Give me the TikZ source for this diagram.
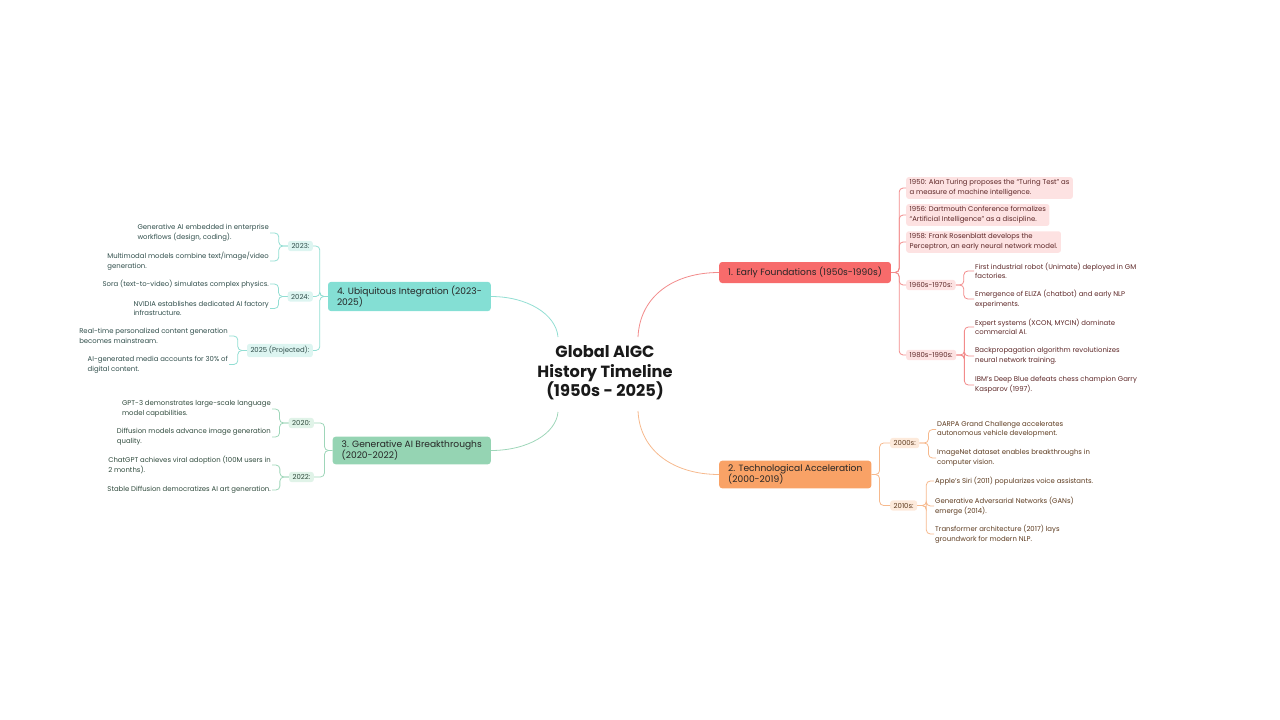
\documentclass[tikz,border=0pt]{standalone}
\usepackage{fontspec}
\setmainfont{Poppins}
\definecolor{redM}{HTML}{F76B6B}
\definecolor{redL}{HTML}{FDE2E2}
\definecolor{redLine}{HTML}{F28B8B}
\definecolor{redText}{HTML}{5C2626}
\definecolor{orM}{HTML}{F9A266}
\definecolor{orL}{HTML}{FDEADB}
\definecolor{orLine}{HTML}{F6B98D}
\definecolor{orText}{HTML}{5C3A1E}
\definecolor{teM}{HTML}{84DFD4}
\definecolor{teL}{HTML}{DDF5F1}
\definecolor{teLine}{HTML}{92DED3}
\definecolor{teText}{HTML}{2F4D4A}
\definecolor{grM}{HTML}{95D4B3}
\definecolor{grL}{HTML}{E0F3E8}
\definecolor{grLine}{HTML}{9ED6B9}
\definecolor{grText}{HTML}{2F4A3C}
\begin{document}
\begin{tikzpicture}[x=1pt,y=-1pt,
  mainbox/.style={rounded corners=3pt, inner xsep=9pt, inner ysep=4pt, minimum height=21pt,
    font=\fontsize{9.1}{11}\selectfont, align=left, text=black!85},
  subbox/.style={rounded corners=2.5pt, inner xsep=3.5pt, inner ysep=2.5pt,
    font=\fontsize{6.9}{9.6}\selectfont, align=left},
  leaf/.style={inner sep=1pt, font=\fontsize{6.9}{9.6}\selectfont, align=left},
  link/.style={line width=0.8pt},
  bracket/.style={line width=0.8pt, rounded corners=4pt}
]
\useasboundingbox (0,0) rectangle (1280,720);

% title
\node[font=\fontsize{16.2}{19.5}\selectfont\bfseries, align=center, text=black!90] (title) at (605,373)
  {Global AIGC\\History Timeline\\ (1950s - 2025)};
\coordinate (cR) at (638,337);
\coordinate (cO) at (638,411);
\coordinate (cT) at (558,337);
\coordinate (cG) at (558,412);

% main boxes
\node[mainbox, fill=redM, anchor=west] (b1) at (719,272.5) {1. Early Foundations (1950s-1990s)};
\node[mainbox, fill=orM, anchor=west] (b2) at (719,474.5) {2. Technological Acceleration\\(2000-2019)};
\node[mainbox, fill=grM, anchor=east] (b3) at (491,450.5) {3. Generative AI Breakthroughs\\(2020-2022)};
\node[mainbox, fill=teM, anchor=east] (b4) at (491,296.5) {4. Ubiquitous Integration (2023-\\2025)};

\draw[link, draw=redLine] (cR) .. controls (640,295) and (675,272.5) .. (b1.west);
\draw[link, draw=orLine] (cO) .. controls (640,452) and (675,474.5) .. (b2.west);
\draw[link, draw=teLine] (cT) .. controls (556,314) and (527,296.5) .. (b4.east);
\draw[link, draw=grLine] (cG) .. controls (556,434) and (527,450.5) .. (b3.east);

% red branch
\begin{scope}[every node/.append style={text=redText}]
\node[subbox, fill=redL, anchor=west] (r1) at (906,188) {1950: Alan Turing proposes the “Turing Test” as\\a measure of machine intelligence.};
\node[subbox, fill=redL, anchor=west] (r2) at (906,215) {1956: Dartmouth Conference formalizes\\“Artificial Intelligence” as a discipline.};
\node[subbox, fill=redL, anchor=west] (r3) at (906,242) {1958: Frank Rosenblatt develops the\\Perceptron, an early neural network model.};
\node[subbox, fill=redL, anchor=west] (r4) at (906,285) {1960s-1970s:};
\node[subbox, fill=redL, anchor=west] (r5) at (906,355) {1980s-1990s:};
\node[leaf, anchor=west] (r4a) at (974,271) {First industrial robot (Unimate) deployed in GM\\factories.};
\node[leaf, anchor=west] (r4b) at (974,299) {Emergence of ELIZA (chatbot) and early NLP\\experiments.};
\node[leaf, anchor=west] (r5a) at (974,327) {Expert systems (XCON, MYCIN) dominate\\commercial AI.};
\node[leaf, anchor=west] (r5b) at (974,356) {Backpropagation algorithm revolutionizes\\neural network training.};
\node[leaf, anchor=west] (r5c) at (974,385) {IBM’s Deep Blue defeats chess champion Garry\\Kasparov (1997).};
\end{scope}
\foreach \c in {r1,r2,r3,r4,r5}
  \draw[bracket, draw=redLine] (b1.east) -- ++(8,0) |- (\c.west);
\foreach \c in {r4a,r4b}
  \draw[bracket, draw=redLine] (r4.east) -- ++(8,0) |- (\c.west);
\foreach \c in {r5a,r5b,r5c}
  \draw[bracket, draw=redLine] (r5.east) -- ++(8,0) |- (\c.west);

% orange branch
\begin{scope}[every node/.append style={text=orText}]
\node[subbox, fill=orL, anchor=west] (o1) at (890,443) {2000s:};
\node[subbox, fill=orL, anchor=west] (o2) at (890,505.5) {2010s:};
\node[leaf, anchor=west] (o1a) at (936,429.5) {DARPA Grand Challenge accelerates\\autonomous vehicle development.};
\node[leaf, anchor=west] (o1b) at (936,458) {ImageNet dataset enables breakthroughs in\\computer vision.};
\node[leaf, anchor=west] (o2a) at (934,481) {Apple’s Siri (2011) popularizes voice assistants.};
\node[leaf, anchor=west] (o2b) at (934,506) {Generative Adversarial Networks (GANs)\\emerge (2014).};
\node[leaf, anchor=west] (o2c) at (934,534) {Transformer architecture (2017) lays\\groundwork for modern NLP.};
\end{scope}
\foreach \c in {o1,o2}
  \draw[bracket, draw=orLine] (b2.east) -- ++(8,0) |- (\c.west);
\foreach \c in {o1a,o1b}
  \draw[bracket, draw=orLine] (o1.east) -- ++(9,0) |- (\c.west);
\foreach \c in {o2a,o2b,o2c}
  \draw[bracket, draw=orLine] (o2.east) -- ++(9,0) |- (\c.west);

% teal branch
\begin{scope}[every node/.append style={text=teText}]
\node[subbox, fill=teL, anchor=east] (t1) at (313,246) {2023:};
\node[subbox, fill=teL, anchor=east] (t2) at (313,296.5) {2024:};
\node[subbox, fill=teL, anchor=east] (t3) at (313,350.5) {2025 (Projected):};
\node[leaf, anchor=east] (t1a) at (270,233) {Generative AI embedded in enterprise\\workflows (design, coding).};
\node[leaf, anchor=east] (t1b) at (270,261) {Multimodal models combine text/image/video\\generation.};
\node[leaf, anchor=east] (t2a) at (270,284) {Sora (text-to-video) simulates complex physics.};
\node[leaf, anchor=east] (t2b) at (270,308.5) {NVIDIA establishes dedicated AI factory\\infrastructure.};
\node[leaf, anchor=east] (t3a) at (229,336) {Real-time personalized content generation\\becomes mainstream.};
\node[leaf, anchor=east] (t3b) at (229,364.5) {AI-generated media accounts for 30\% of\\digital content.};
\end{scope}
\foreach \c in {t1,t2,t3}
  \draw[bracket, draw=teLine] (b4.west) -- ++(-8,0) |- (\c.east);
\foreach \c in {t1a,t1b}
  \draw[bracket, draw=teLine] (t1.west) -- ++(-9,0) |- (\c.east);
\foreach \c in {t2a,t2b}
  \draw[bracket, draw=teLine] (t2.west) -- ++(-9,0) |- (\c.east);
\foreach \c in {t3a,t3b}
  \draw[bracket, draw=teLine] (t3.west) -- ++(-9,0) |- (\c.east);

% green branch
\begin{scope}[every node/.append style={text=grText}]
\node[subbox, fill=grL, anchor=east] (g1) at (314,423) {2020:};
\node[subbox, fill=grL, anchor=east] (g2) at (314,477) {2022:};
\node[leaf, anchor=east] (g1a) at (272,409) {GPT-3 demonstrates large-scale language\\model capabilities.};
\node[leaf, anchor=east] (g1b) at (272,437) {Diffusion models advance image generation\\quality.};
\node[leaf, anchor=east] (g2a) at (272,465) {ChatGPT achieves viral adoption (100M users in\\2 months).};
\node[leaf, anchor=east] (g2b) at (272,490) {Stable Diffusion democratizes AI art generation.};
\end{scope}
\foreach \c in {g1,g2}
  \draw[bracket, draw=grLine] (b3.west) -- ++(-8,0) |- (\c.east);
\foreach \c in {g1a,g1b}
  \draw[bracket, draw=grLine] (g1.west) -- ++(-9,0) |- (\c.east);
\foreach \c in {g2a,g2b}
  \draw[bracket, draw=grLine] (g2.west) -- ++(-9,0) |- (\c.east);
\end{tikzpicture}
\end{document}
